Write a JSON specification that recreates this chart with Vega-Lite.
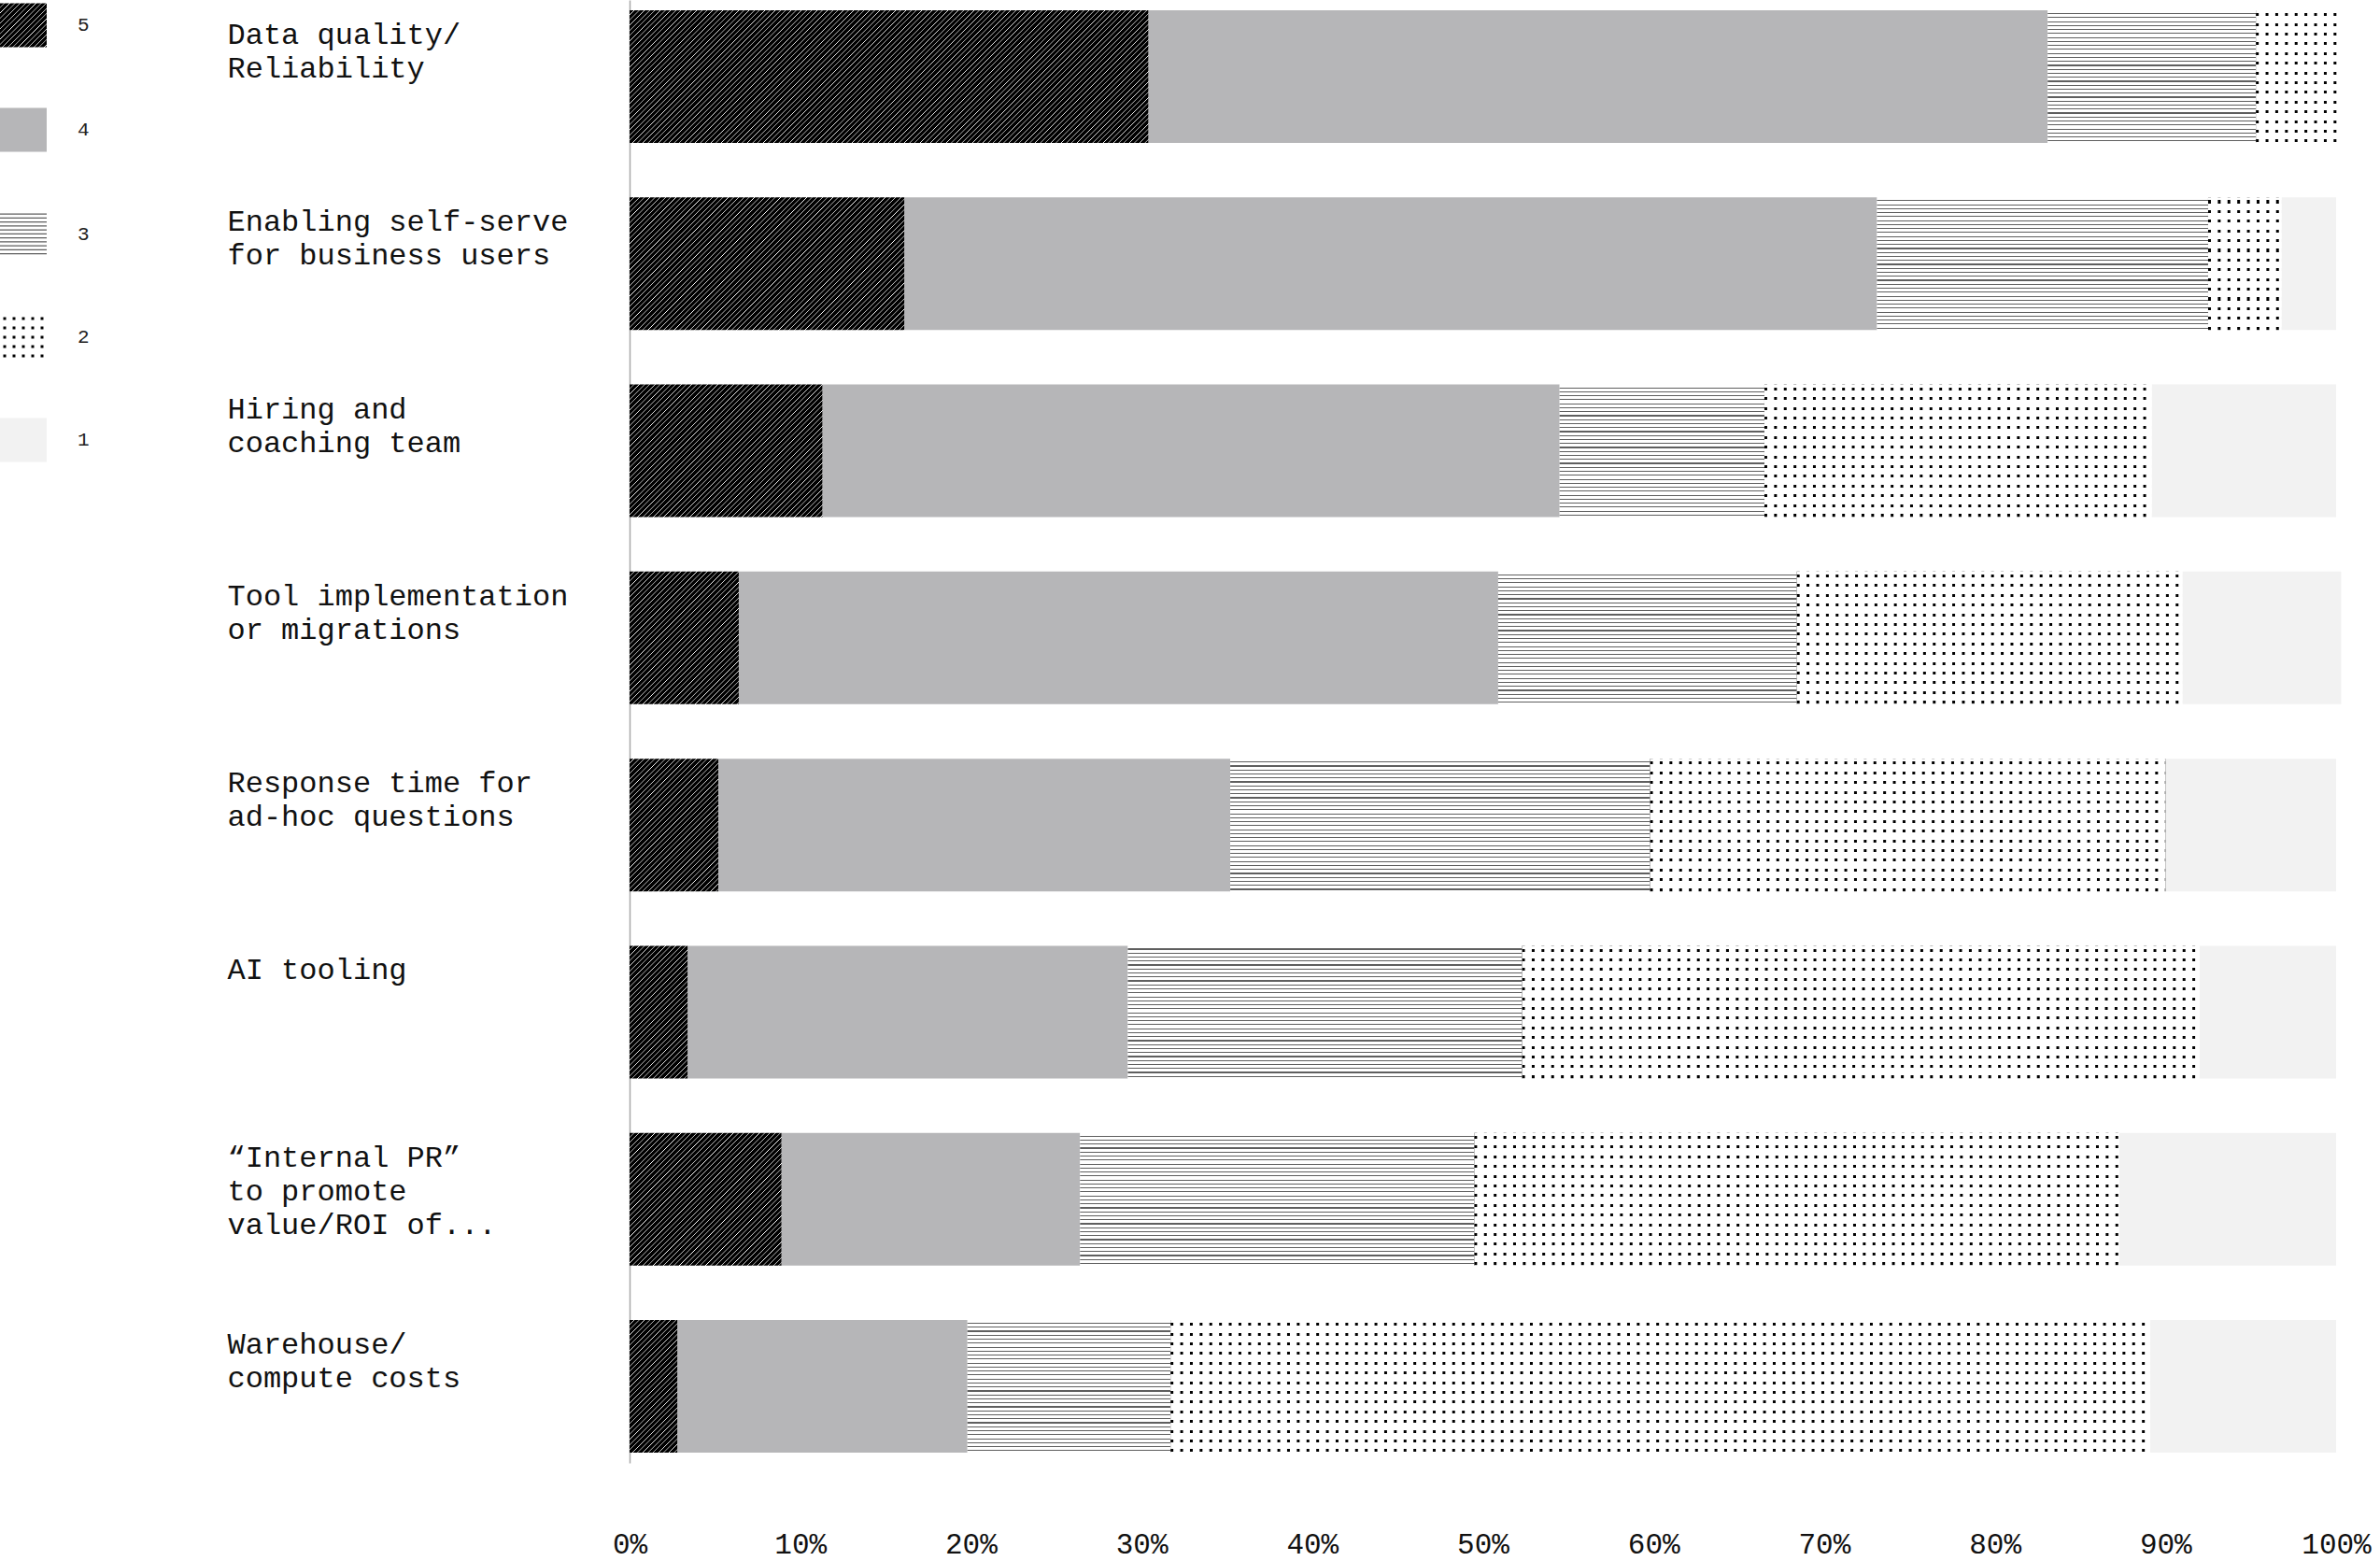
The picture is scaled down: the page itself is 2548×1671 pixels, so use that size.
{
  "$schema": "https://vega.github.io/schema/vega-lite/v6.json",
  "width": 1827,
  "height": 1566,
  "autosize": {"type": "none"},
  "padding": {"left": 674, "top": 0, "right": 47, "bottom": 105},
  "background": "#ffffff",
  "config": {"view": {"stroke": null}, "font": "Liberation Mono"},
  "params": [
    {"name": "hatchStops", "value": [
      {"offset":0,"color":"#000"},{"offset":0.0058,"color":"#000"},{"offset":0.007,"color":"#fff"},
      {"offset":0.008,"color":"#000"},{"offset":0.0138,"color":"#000"},{"offset":0.015,"color":"#fff"},
      {"offset":0.016,"color":"#000"},{"offset":0.0218,"color":"#000"},{"offset":0.023,"color":"#fff"},
      {"offset":0.024,"color":"#000"},{"offset":0.0298,"color":"#000"},{"offset":0.031,"color":"#fff"},
      {"offset":0.032,"color":"#000"},{"offset":0.0378,"color":"#000"},{"offset":0.039,"color":"#fff"},
      {"offset":0.04,"color":"#000"},{"offset":0.0458,"color":"#000"},{"offset":0.047,"color":"#fff"},
      {"offset":0.048,"color":"#000"},{"offset":0.0538,"color":"#000"},{"offset":0.055,"color":"#fff"},
      {"offset":0.056,"color":"#000"},{"offset":0.0618,"color":"#000"},{"offset":0.063,"color":"#fff"},
      {"offset":0.064,"color":"#000"},{"offset":0.0698,"color":"#000"},{"offset":0.071,"color":"#fff"},
      {"offset":0.072,"color":"#000"},{"offset":0.0778,"color":"#000"},{"offset":0.079,"color":"#fff"},
      {"offset":0.08,"color":"#000"},{"offset":0.0858,"color":"#000"},{"offset":0.087,"color":"#fff"},
      {"offset":0.088,"color":"#000"},{"offset":0.0938,"color":"#000"},{"offset":0.095,"color":"#fff"},
      {"offset":0.096,"color":"#000"},{"offset":0.1018,"color":"#000"},{"offset":0.103,"color":"#fff"},
      {"offset":0.104,"color":"#000"},{"offset":0.1098,"color":"#000"},{"offset":0.111,"color":"#fff"},
      {"offset":0.112,"color":"#000"},{"offset":0.1178,"color":"#000"},{"offset":0.119,"color":"#fff"},
      {"offset":0.12,"color":"#000"},{"offset":0.1258,"color":"#000"},{"offset":0.127,"color":"#fff"},
      {"offset":0.128,"color":"#000"},{"offset":0.1338,"color":"#000"},{"offset":0.135,"color":"#fff"},
      {"offset":0.136,"color":"#000"},{"offset":0.1418,"color":"#000"},{"offset":0.143,"color":"#fff"},
      {"offset":0.144,"color":"#000"},{"offset":0.1498,"color":"#000"},{"offset":0.151,"color":"#fff"},
      {"offset":0.152,"color":"#000"},{"offset":0.1578,"color":"#000"},{"offset":0.159,"color":"#fff"},
      {"offset":0.16,"color":"#000"},{"offset":0.1658,"color":"#000"},{"offset":0.167,"color":"#fff"},
      {"offset":0.168,"color":"#000"},{"offset":0.1738,"color":"#000"},{"offset":0.175,"color":"#fff"},
      {"offset":0.176,"color":"#000"},{"offset":0.1818,"color":"#000"},{"offset":0.183,"color":"#fff"},
      {"offset":0.184,"color":"#000"},{"offset":0.1898,"color":"#000"},{"offset":0.191,"color":"#fff"},
      {"offset":0.192,"color":"#000"},{"offset":0.1978,"color":"#000"},{"offset":0.199,"color":"#fff"},
      {"offset":0.2,"color":"#000"},{"offset":0.2058,"color":"#000"},{"offset":0.207,"color":"#fff"},
      {"offset":0.208,"color":"#000"},{"offset":0.2138,"color":"#000"},{"offset":0.215,"color":"#fff"},
      {"offset":0.216,"color":"#000"},{"offset":0.2218,"color":"#000"},{"offset":0.223,"color":"#fff"},
      {"offset":0.224,"color":"#000"},{"offset":0.2298,"color":"#000"},{"offset":0.231,"color":"#fff"},
      {"offset":0.232,"color":"#000"},{"offset":0.2378,"color":"#000"},{"offset":0.239,"color":"#fff"},
      {"offset":0.24,"color":"#000"},{"offset":0.2458,"color":"#000"},{"offset":0.247,"color":"#fff"},
      {"offset":0.248,"color":"#000"},{"offset":0.2538,"color":"#000"},{"offset":0.255,"color":"#fff"},
      {"offset":0.256,"color":"#000"},{"offset":0.2618,"color":"#000"},{"offset":0.263,"color":"#fff"},
      {"offset":0.264,"color":"#000"},{"offset":0.2698,"color":"#000"},{"offset":0.271,"color":"#fff"},
      {"offset":0.272,"color":"#000"},{"offset":0.2778,"color":"#000"},{"offset":0.279,"color":"#fff"},
      {"offset":0.28,"color":"#000"},{"offset":0.2858,"color":"#000"},{"offset":0.287,"color":"#fff"},
      {"offset":0.288,"color":"#000"},{"offset":0.2938,"color":"#000"},{"offset":0.295,"color":"#fff"},
      {"offset":0.296,"color":"#000"},{"offset":0.3018,"color":"#000"},{"offset":0.303,"color":"#fff"},
      {"offset":0.304,"color":"#000"},{"offset":0.3098,"color":"#000"},{"offset":0.311,"color":"#fff"},
      {"offset":0.312,"color":"#000"},{"offset":0.3178,"color":"#000"},{"offset":0.319,"color":"#fff"},
      {"offset":0.32,"color":"#000"},{"offset":0.3258,"color":"#000"},{"offset":0.327,"color":"#fff"},
      {"offset":0.328,"color":"#000"},{"offset":0.3338,"color":"#000"},{"offset":0.335,"color":"#fff"},
      {"offset":0.336,"color":"#000"},{"offset":0.3418,"color":"#000"},{"offset":0.343,"color":"#fff"},
      {"offset":0.344,"color":"#000"},{"offset":0.3498,"color":"#000"},{"offset":0.351,"color":"#fff"},
      {"offset":0.352,"color":"#000"},{"offset":0.3578,"color":"#000"},{"offset":0.359,"color":"#fff"},
      {"offset":0.36,"color":"#000"},{"offset":0.3658,"color":"#000"},{"offset":0.367,"color":"#fff"},
      {"offset":0.368,"color":"#000"},{"offset":0.3738,"color":"#000"},{"offset":0.375,"color":"#fff"},
      {"offset":0.376,"color":"#000"},{"offset":0.3818,"color":"#000"},{"offset":0.383,"color":"#fff"},
      {"offset":0.384,"color":"#000"},{"offset":0.3898,"color":"#000"},{"offset":0.391,"color":"#fff"},
      {"offset":0.392,"color":"#000"},{"offset":0.3978,"color":"#000"},{"offset":0.399,"color":"#fff"},
      {"offset":0.4,"color":"#000"},{"offset":0.4058,"color":"#000"},{"offset":0.407,"color":"#fff"},
      {"offset":0.408,"color":"#000"},{"offset":0.4138,"color":"#000"},{"offset":0.415,"color":"#fff"},
      {"offset":0.416,"color":"#000"},{"offset":0.4218,"color":"#000"},{"offset":0.423,"color":"#fff"},
      {"offset":0.424,"color":"#000"},{"offset":0.4298,"color":"#000"},{"offset":0.431,"color":"#fff"},
      {"offset":0.432,"color":"#000"},{"offset":0.4378,"color":"#000"},{"offset":0.439,"color":"#fff"},
      {"offset":0.44,"color":"#000"},{"offset":0.4458,"color":"#000"},{"offset":0.447,"color":"#fff"},
      {"offset":0.448,"color":"#000"},{"offset":0.4538,"color":"#000"},{"offset":0.455,"color":"#fff"},
      {"offset":0.456,"color":"#000"},{"offset":0.4618,"color":"#000"},{"offset":0.463,"color":"#fff"},
      {"offset":0.464,"color":"#000"},{"offset":0.4698,"color":"#000"},{"offset":0.471,"color":"#fff"},
      {"offset":0.472,"color":"#000"},{"offset":0.4778,"color":"#000"},{"offset":0.479,"color":"#fff"},
      {"offset":0.48,"color":"#000"},{"offset":0.4858,"color":"#000"},{"offset":0.487,"color":"#fff"},
      {"offset":0.488,"color":"#000"},{"offset":0.4938,"color":"#000"},{"offset":0.495,"color":"#fff"},
      {"offset":0.496,"color":"#000"},{"offset":0.5018,"color":"#000"},{"offset":0.503,"color":"#fff"},
      {"offset":0.504,"color":"#000"},{"offset":0.5098,"color":"#000"},{"offset":0.511,"color":"#fff"},
      {"offset":0.512,"color":"#000"},{"offset":0.5178,"color":"#000"},{"offset":0.519,"color":"#fff"},
      {"offset":0.52,"color":"#000"},{"offset":0.5258,"color":"#000"},{"offset":0.527,"color":"#fff"},
      {"offset":0.528,"color":"#000"},{"offset":0.5338,"color":"#000"},{"offset":0.535,"color":"#fff"},
      {"offset":0.536,"color":"#000"},{"offset":0.5418,"color":"#000"},{"offset":0.543,"color":"#fff"},
      {"offset":0.544,"color":"#000"},{"offset":0.5498,"color":"#000"},{"offset":0.551,"color":"#fff"},
      {"offset":0.552,"color":"#000"},{"offset":0.5578,"color":"#000"},{"offset":0.559,"color":"#fff"},
      {"offset":0.56,"color":"#000"},{"offset":0.5658,"color":"#000"},{"offset":0.567,"color":"#fff"},
      {"offset":0.568,"color":"#000"},{"offset":0.5738,"color":"#000"},{"offset":0.575,"color":"#fff"},
      {"offset":0.576,"color":"#000"},{"offset":0.5818,"color":"#000"},{"offset":0.583,"color":"#fff"},
      {"offset":0.584,"color":"#000"},{"offset":0.5898,"color":"#000"},{"offset":0.591,"color":"#fff"},
      {"offset":0.592,"color":"#000"},{"offset":0.5978,"color":"#000"},{"offset":0.599,"color":"#fff"},
      {"offset":0.6,"color":"#000"},{"offset":0.6058,"color":"#000"},{"offset":0.607,"color":"#fff"},
      {"offset":0.608,"color":"#000"},{"offset":0.6138,"color":"#000"},{"offset":0.615,"color":"#fff"},
      {"offset":0.616,"color":"#000"},{"offset":0.6218,"color":"#000"},{"offset":0.623,"color":"#fff"},
      {"offset":0.624,"color":"#000"},{"offset":0.6298,"color":"#000"},{"offset":0.631,"color":"#fff"},
      {"offset":0.632,"color":"#000"},{"offset":0.6378,"color":"#000"},{"offset":0.639,"color":"#fff"},
      {"offset":0.64,"color":"#000"},{"offset":0.6458,"color":"#000"},{"offset":0.647,"color":"#fff"},
      {"offset":0.648,"color":"#000"},{"offset":0.6538,"color":"#000"},{"offset":0.655,"color":"#fff"},
      {"offset":0.656,"color":"#000"},{"offset":0.6618,"color":"#000"},{"offset":0.663,"color":"#fff"},
      {"offset":0.664,"color":"#000"},{"offset":0.6698,"color":"#000"},{"offset":0.671,"color":"#fff"},
      {"offset":0.672,"color":"#000"},{"offset":0.6778,"color":"#000"},{"offset":0.679,"color":"#fff"},
      {"offset":0.68,"color":"#000"},{"offset":0.6858,"color":"#000"},{"offset":0.687,"color":"#fff"},
      {"offset":0.688,"color":"#000"},{"offset":0.6938,"color":"#000"},{"offset":0.695,"color":"#fff"},
      {"offset":0.696,"color":"#000"},{"offset":0.7018,"color":"#000"},{"offset":0.703,"color":"#fff"},
      {"offset":0.704,"color":"#000"},{"offset":0.7098,"color":"#000"},{"offset":0.711,"color":"#fff"},
      {"offset":0.712,"color":"#000"},{"offset":0.7178,"color":"#000"},{"offset":0.719,"color":"#fff"},
      {"offset":0.72,"color":"#000"},{"offset":0.7258,"color":"#000"},{"offset":0.727,"color":"#fff"},
      {"offset":0.728,"color":"#000"},{"offset":0.7338,"color":"#000"},{"offset":0.735,"color":"#fff"},
      {"offset":0.736,"color":"#000"},{"offset":0.7418,"color":"#000"},{"offset":0.743,"color":"#fff"},
      {"offset":0.744,"color":"#000"},{"offset":0.7498,"color":"#000"},{"offset":0.751,"color":"#fff"},
      {"offset":0.752,"color":"#000"},{"offset":0.7578,"color":"#000"},{"offset":0.759,"color":"#fff"},
      {"offset":0.76,"color":"#000"},{"offset":0.7658,"color":"#000"},{"offset":0.767,"color":"#fff"},
      {"offset":0.768,"color":"#000"},{"offset":0.7738,"color":"#000"},{"offset":0.775,"color":"#fff"},
      {"offset":0.776,"color":"#000"},{"offset":0.7818,"color":"#000"},{"offset":0.783,"color":"#fff"},
      {"offset":0.784,"color":"#000"},{"offset":0.7898,"color":"#000"},{"offset":0.791,"color":"#fff"},
      {"offset":0.792,"color":"#000"},{"offset":0.7978,"color":"#000"},{"offset":0.799,"color":"#fff"},
      {"offset":0.8,"color":"#000"},{"offset":0.8058,"color":"#000"},{"offset":0.807,"color":"#fff"},
      {"offset":0.808,"color":"#000"},{"offset":0.8138,"color":"#000"},{"offset":0.815,"color":"#fff"},
      {"offset":0.816,"color":"#000"},{"offset":0.8218,"color":"#000"},{"offset":0.823,"color":"#fff"},
      {"offset":0.824,"color":"#000"},{"offset":0.8298,"color":"#000"},{"offset":0.831,"color":"#fff"},
      {"offset":0.832,"color":"#000"},{"offset":0.8378,"color":"#000"},{"offset":0.839,"color":"#fff"},
      {"offset":0.84,"color":"#000"},{"offset":0.8458,"color":"#000"},{"offset":0.847,"color":"#fff"},
      {"offset":0.848,"color":"#000"},{"offset":0.8538,"color":"#000"},{"offset":0.855,"color":"#fff"},
      {"offset":0.856,"color":"#000"},{"offset":0.8618,"color":"#000"},{"offset":0.863,"color":"#fff"},
      {"offset":0.864,"color":"#000"},{"offset":0.8698,"color":"#000"},{"offset":0.871,"color":"#fff"},
      {"offset":0.872,"color":"#000"},{"offset":0.8778,"color":"#000"},{"offset":0.879,"color":"#fff"},
      {"offset":0.88,"color":"#000"},{"offset":0.8858,"color":"#000"},{"offset":0.887,"color":"#fff"},
      {"offset":0.888,"color":"#000"},{"offset":0.8938,"color":"#000"},{"offset":0.895,"color":"#fff"},
      {"offset":0.896,"color":"#000"},{"offset":0.9018,"color":"#000"},{"offset":0.903,"color":"#fff"},
      {"offset":0.904,"color":"#000"},{"offset":0.9098,"color":"#000"},{"offset":0.911,"color":"#fff"},
      {"offset":0.912,"color":"#000"},{"offset":0.9178,"color":"#000"},{"offset":0.919,"color":"#fff"},
      {"offset":0.92,"color":"#000"},{"offset":0.9258,"color":"#000"},{"offset":0.927,"color":"#fff"},
      {"offset":0.928,"color":"#000"},{"offset":0.9338,"color":"#000"},{"offset":0.935,"color":"#fff"},
      {"offset":0.936,"color":"#000"},{"offset":0.9418,"color":"#000"},{"offset":0.943,"color":"#fff"},
      {"offset":0.944,"color":"#000"},{"offset":0.9498,"color":"#000"},{"offset":0.951,"color":"#fff"},
      {"offset":0.952,"color":"#000"},{"offset":0.9578,"color":"#000"},{"offset":0.959,"color":"#fff"},
      {"offset":0.96,"color":"#000"},{"offset":0.9658,"color":"#000"},{"offset":0.967,"color":"#fff"},
      {"offset":0.968,"color":"#000"},{"offset":0.9738,"color":"#000"},{"offset":0.975,"color":"#fff"},
      {"offset":0.976,"color":"#000"},{"offset":0.9818,"color":"#000"},{"offset":0.983,"color":"#fff"},
      {"offset":0.984,"color":"#000"},{"offset":0.9898,"color":"#000"},{"offset":0.991,"color":"#fff"},
      {"offset":0.992,"color":"#000"},{"offset":0.9978,"color":"#000"},{"offset":0.999,"color":"#fff"},
      {"offset":1,"color":"#000"}
    ]}
  ],
  "data": {
    "values": [
      {"task": "Data quality/\nReliability", "rating": 5, "pct": 30.4},
      {"task": "Data quality/\nReliability", "rating": 4, "pct": 52.7},
      {"task": "Data quality/\nReliability", "rating": 3, "pct": 12.2},
      {"task": "Data quality/\nReliability", "rating": 2, "pct": 4.8},
      {"task": "Data quality/\nReliability", "rating": 1, "pct": 0},
      {"task": "Enabling self-serve\nfor business users", "rating": 5, "pct": 16.1},
      {"task": "Enabling self-serve\nfor business users", "rating": 4, "pct": 57.0},
      {"task": "Enabling self-serve\nfor business users", "rating": 3, "pct": 19.4},
      {"task": "Enabling self-serve\nfor business users", "rating": 2, "pct": 4.3},
      {"task": "Enabling self-serve\nfor business users", "rating": 1, "pct": 3.2},
      {"task": "Hiring and\ncoaching team", "rating": 5, "pct": 11.3},
      {"task": "Hiring and\ncoaching team", "rating": 4, "pct": 43.2},
      {"task": "Hiring and\ncoaching team", "rating": 3, "pct": 12.0},
      {"task": "Hiring and\ncoaching team", "rating": 2, "pct": 22.7},
      {"task": "Hiring and\ncoaching team", "rating": 1, "pct": 10.8},
      {"task": "Tool implementation\nor migrations", "rating": 5, "pct": 6.4},
      {"task": "Tool implementation\nor migrations", "rating": 4, "pct": 44.5},
      {"task": "Tool implementation\nor migrations", "rating": 3, "pct": 17.5},
      {"task": "Tool implementation\nor migrations", "rating": 2, "pct": 22.6},
      {"task": "Tool implementation\nor migrations", "rating": 1, "pct": 9.3},
      {"task": "Response time for\nad-hoc questions", "rating": 5, "pct": 5.2},
      {"task": "Response time for\nad-hoc questions", "rating": 4, "pct": 30.0},
      {"task": "Response time for\nad-hoc questions", "rating": 3, "pct": 24.6},
      {"task": "Response time for\nad-hoc questions", "rating": 2, "pct": 30.2},
      {"task": "Response time for\nad-hoc questions", "rating": 1, "pct": 10.0},
      {"task": "AI tooling", "rating": 5, "pct": 3.4},
      {"task": "AI tooling", "rating": 4, "pct": 25.8},
      {"task": "AI tooling", "rating": 3, "pct": 23.1},
      {"task": "AI tooling", "rating": 2, "pct": 39.7},
      {"task": "AI tooling", "rating": 1, "pct": 8.0},
      {"task": "“Internal PR”\nto promote\nvalue/ROI of...", "rating": 5, "pct": 8.9},
      {"task": "“Internal PR”\nto promote\nvalue/ROI of...", "rating": 4, "pct": 17.5},
      {"task": "“Internal PR”\nto promote\nvalue/ROI of...", "rating": 3, "pct": 23.1},
      {"task": "“Internal PR”\nto promote\nvalue/ROI of...", "rating": 2, "pct": 37.8},
      {"task": "“Internal PR”\nto promote\nvalue/ROI of...", "rating": 1, "pct": 12.7},
      {"task": "Warehouse/\ncompute costs", "rating": 5, "pct": 2.8},
      {"task": "Warehouse/\ncompute costs", "rating": 4, "pct": 17.0},
      {"task": "Warehouse/\ncompute costs", "rating": 3, "pct": 11.9},
      {"task": "Warehouse/\ncompute costs", "rating": 2, "pct": 57.4},
      {"task": "Warehouse/\ncompute costs", "rating": 1, "pct": 10.9}
    ]
  },
  "transform": [
    {"stack": "pct", "groupby": ["task"], "sort": [{"field": "rating", "order": "descending"}], "as": ["x0", "x1"]}
  ],
  "encoding": {
    "y": {
      "field": "task",
      "type": "nominal",
      "sort": null,
      "scale": {"paddingInner": 0.291, "paddingOuter": 0.055},
      "axis": {
        "title": null,
        "ticks": false,
        "tickSize": 0,
        "domain": true,
        "domainColor": "#a9a9a9",
        "domainWidth": 1.5,
        "labelExpr": "split(datum.value, '\\n')",
        "labelAlign": "left",
        "labelBaseline": "alphabetic",
        "labelPadding": 431,
        "labelOffset": -35,
        "labelLineHeight": 36,
        "labelLimit": 600,
        "labelFont": "Liberation Mono",
        "labelFontSize": 32,
        "labelColor": "#111111"
      }
    },
    "x": {
      "field": "x0",
      "type": "quantitative",
      "scale": {"domain": [0, 100], "nice": false},
      "axis": {
        "title": null,
        "values": [0, 10, 20, 30, 40, 50, 60, 70, 80, 90, 100],
        "labelExpr": "datum.value + '%'",
        "domain": false,
        "ticks": false,
        "tickSize": 0,
        "grid": false,
        "labelFlush": false,
        "labelPadding": 96,
        "labelBaseline": "alphabetic",
        "labelFont": "Liberation Mono",
        "labelFontSize": 31,
        "labelColor": "#111111"
      }
    }
  },
  "layer": [
    {
      "mark": {"type": "point", "filled": true, "opacity": 0},
      "encoding": {
        "color": {
          "field": "rating",
          "type": "nominal",
          "scale": {
            "domain": [5, 4, 3, 2, 1],
            "range": [
              {"expr": "{gradient: 'linear', x1: 0, y1: 0, x2: 7.433, y2: 6.987, stops: hatchStops}"},
              "#b6b6b8",
              "#5f5f5f",
              "#000000",
              "#f2f2f2"
            ]
          },
          "legend": {
            "orient": "none", "legendX": -674, "legendY": 2, "title": null, "padding": 0,
            "symbolSize": 2500, "symbolStrokeWidth": 0, "symbolOpacity": 1,
            "labelFont": "Liberation Mono", "labelFontSize": 21, "labelColor": "#222222",
            "labelOffset": 33, "rowPadding": 63
          }
        },
        "shape": {
          "field": "rating",
          "type": "nominal",
          "scale": {
            "domain": [5, 4, 3, 2, 1],
            "range": [
              "M-1,-0.94H1V0.94H-1Z",
              "M-1,-0.94H1V0.94H-1Z",
              "M-1,-0.9h2v0.045h-2zM-1,-0.73h2v0.045h-2zM-1,-0.56h2v0.045h-2zM-1,-0.39h2v0.045h-2zM-1,-0.22h2v0.045h-2zM-1,-0.05h2v0.045h-2zM-1,0.12h2v0.045h-2zM-1,0.29h2v0.045h-2zM-1,0.46h2v0.045h-2zM-1,0.63h2v0.045h-2zM-1,0.8h2v0.045h-2z",
              "M-0.86,-0.86h0.12v0.12h-0.12zM-0.46,-0.86h0.12v0.12h-0.12zM-0.06,-0.86h0.12v0.12h-0.12zM0.34,-0.86h0.12v0.12h-0.12zM0.74,-0.86h0.12v0.12h-0.12zM-0.86,-0.46h0.12v0.12h-0.12zM-0.46,-0.46h0.12v0.12h-0.12zM-0.06,-0.46h0.12v0.12h-0.12zM0.34,-0.46h0.12v0.12h-0.12zM0.74,-0.46h0.12v0.12h-0.12zM-0.86,-0.06h0.12v0.12h-0.12zM-0.46,-0.06h0.12v0.12h-0.12zM-0.06,-0.06h0.12v0.12h-0.12zM0.34,-0.06h0.12v0.12h-0.12zM0.74,-0.06h0.12v0.12h-0.12zM-0.86,0.34h0.12v0.12h-0.12zM-0.46,0.34h0.12v0.12h-0.12zM-0.06,0.34h0.12v0.12h-0.12zM0.34,0.34h0.12v0.12h-0.12zM0.74,0.34h0.12v0.12h-0.12zM-0.86,0.74h0.12v0.12h-0.12zM-0.46,0.74h0.12v0.12h-0.12zM-0.06,0.74h0.12v0.12h-0.12zM0.34,0.74h0.12v0.12h-0.12zM0.74,0.74h0.12v0.12h-0.12z",
              "M-1,-0.94H1V0.94H-1Z"
            ]
          },
          "legend": {
            "orient": "none", "legendX": -674, "legendY": 2, "title": null, "padding": 0,
            "symbolSize": 2500, "symbolStrokeWidth": 0, "symbolOpacity": 1,
            "labelFont": "Liberation Mono", "labelFontSize": 21, "labelColor": "#222222",
            "labelOffset": 33, "rowPadding": 63
          }
        }
      }
    },
    {
      "transform": [{"filter": "datum.rating == 4"}],
      "mark": {"type": "bar", "fill": "#b6b6b8"},
      "encoding": {"x2": {"field": "x1"}}
    },
    {
      "transform": [{"filter": "datum.rating == 1"}],
      "mark": {"type": "bar", "fill": "#f2f2f2"},
      "encoding": {"x2": {"field": "x1"}}
    },
    {
      "transform": [{"filter": "datum.rating == 3"}],
      "mark": {
        "type": "bar",
        "fill": {
          "gradient": "linear", "x1": 0, "y1": 0, "x2": 0, "y2": 1,
          "stops": [
            {"offset":0,"color":"#fff"},
            {"offset":0.021,"color":"#fff"},{"offset":0.021,"color":"#5f5f5f"},{"offset":0.029,"color":"#5f5f5f"},{"offset":0.029,"color":"#fff"},
            {"offset":0.051,"color":"#fff"},{"offset":0.051,"color":"#5f5f5f"},{"offset":0.059,"color":"#5f5f5f"},{"offset":0.059,"color":"#fff"},
            {"offset":0.081,"color":"#fff"},{"offset":0.081,"color":"#5f5f5f"},{"offset":0.089,"color":"#5f5f5f"},{"offset":0.089,"color":"#fff"},
            {"offset":0.111,"color":"#fff"},{"offset":0.111,"color":"#5f5f5f"},{"offset":0.119,"color":"#5f5f5f"},{"offset":0.119,"color":"#fff"},
            {"offset":0.141,"color":"#fff"},{"offset":0.141,"color":"#5f5f5f"},{"offset":0.149,"color":"#5f5f5f"},{"offset":0.149,"color":"#fff"},
            {"offset":0.171,"color":"#fff"},{"offset":0.171,"color":"#5f5f5f"},{"offset":0.179,"color":"#5f5f5f"},{"offset":0.179,"color":"#fff"},
            {"offset":0.201,"color":"#fff"},{"offset":0.201,"color":"#5f5f5f"},{"offset":0.209,"color":"#5f5f5f"},{"offset":0.209,"color":"#fff"},
            {"offset":0.231,"color":"#fff"},{"offset":0.231,"color":"#5f5f5f"},{"offset":0.239,"color":"#5f5f5f"},{"offset":0.239,"color":"#fff"},
            {"offset":0.261,"color":"#fff"},{"offset":0.261,"color":"#5f5f5f"},{"offset":0.269,"color":"#5f5f5f"},{"offset":0.269,"color":"#fff"},
            {"offset":0.291,"color":"#fff"},{"offset":0.291,"color":"#5f5f5f"},{"offset":0.299,"color":"#5f5f5f"},{"offset":0.299,"color":"#fff"},
            {"offset":0.321,"color":"#fff"},{"offset":0.321,"color":"#5f5f5f"},{"offset":0.329,"color":"#5f5f5f"},{"offset":0.329,"color":"#fff"},
            {"offset":0.351,"color":"#fff"},{"offset":0.351,"color":"#5f5f5f"},{"offset":0.359,"color":"#5f5f5f"},{"offset":0.359,"color":"#fff"},
            {"offset":0.381,"color":"#fff"},{"offset":0.381,"color":"#5f5f5f"},{"offset":0.389,"color":"#5f5f5f"},{"offset":0.389,"color":"#fff"},
            {"offset":0.411,"color":"#fff"},{"offset":0.411,"color":"#5f5f5f"},{"offset":0.419,"color":"#5f5f5f"},{"offset":0.419,"color":"#fff"},
            {"offset":0.441,"color":"#fff"},{"offset":0.441,"color":"#5f5f5f"},{"offset":0.449,"color":"#5f5f5f"},{"offset":0.449,"color":"#fff"},
            {"offset":0.471,"color":"#fff"},{"offset":0.471,"color":"#5f5f5f"},{"offset":0.479,"color":"#5f5f5f"},{"offset":0.479,"color":"#fff"},
            {"offset":0.501,"color":"#fff"},{"offset":0.501,"color":"#5f5f5f"},{"offset":0.509,"color":"#5f5f5f"},{"offset":0.509,"color":"#fff"},
            {"offset":0.531,"color":"#fff"},{"offset":0.531,"color":"#5f5f5f"},{"offset":0.539,"color":"#5f5f5f"},{"offset":0.539,"color":"#fff"},
            {"offset":0.561,"color":"#fff"},{"offset":0.561,"color":"#5f5f5f"},{"offset":0.569,"color":"#5f5f5f"},{"offset":0.569,"color":"#fff"},
            {"offset":0.591,"color":"#fff"},{"offset":0.591,"color":"#5f5f5f"},{"offset":0.599,"color":"#5f5f5f"},{"offset":0.599,"color":"#fff"},
            {"offset":0.621,"color":"#fff"},{"offset":0.621,"color":"#5f5f5f"},{"offset":0.629,"color":"#5f5f5f"},{"offset":0.629,"color":"#fff"},
            {"offset":0.651,"color":"#fff"},{"offset":0.651,"color":"#5f5f5f"},{"offset":0.659,"color":"#5f5f5f"},{"offset":0.659,"color":"#fff"},
            {"offset":0.681,"color":"#fff"},{"offset":0.681,"color":"#5f5f5f"},{"offset":0.689,"color":"#5f5f5f"},{"offset":0.689,"color":"#fff"},
            {"offset":0.711,"color":"#fff"},{"offset":0.711,"color":"#5f5f5f"},{"offset":0.719,"color":"#5f5f5f"},{"offset":0.719,"color":"#fff"},
            {"offset":0.741,"color":"#fff"},{"offset":0.741,"color":"#5f5f5f"},{"offset":0.749,"color":"#5f5f5f"},{"offset":0.749,"color":"#fff"},
            {"offset":0.771,"color":"#fff"},{"offset":0.771,"color":"#5f5f5f"},{"offset":0.779,"color":"#5f5f5f"},{"offset":0.779,"color":"#fff"},
            {"offset":0.801,"color":"#fff"},{"offset":0.801,"color":"#5f5f5f"},{"offset":0.809,"color":"#5f5f5f"},{"offset":0.809,"color":"#fff"},
            {"offset":0.831,"color":"#fff"},{"offset":0.831,"color":"#5f5f5f"},{"offset":0.839,"color":"#5f5f5f"},{"offset":0.839,"color":"#fff"},
            {"offset":0.861,"color":"#fff"},{"offset":0.861,"color":"#5f5f5f"},{"offset":0.869,"color":"#5f5f5f"},{"offset":0.869,"color":"#fff"},
            {"offset":0.891,"color":"#fff"},{"offset":0.891,"color":"#5f5f5f"},{"offset":0.899,"color":"#5f5f5f"},{"offset":0.899,"color":"#fff"},
            {"offset":0.921,"color":"#fff"},{"offset":0.921,"color":"#5f5f5f"},{"offset":0.929,"color":"#5f5f5f"},{"offset":0.929,"color":"#fff"},
            {"offset":0.951,"color":"#fff"},{"offset":0.951,"color":"#5f5f5f"},{"offset":0.959,"color":"#5f5f5f"},{"offset":0.959,"color":"#fff"},
            {"offset":0.981,"color":"#fff"},{"offset":0.981,"color":"#5f5f5f"},{"offset":0.989,"color":"#5f5f5f"},{"offset":0.989,"color":"#fff"},
            {"offset":1,"color":"#fff"}
          ]
        }
      },
      "encoding": {"x2": {"field": "x1"}}
    },
    {
      "transform": [{"filter": "datum.rating == 5"}],
      "mark": {
        "type": "bar",
        "fill": {"expr": "{gradient: 'linear', x1: 0, y1: 0, x2: 700*(datum.x1-datum.x0)*18.27/(pow((datum.x1-datum.x0)*18.27, 2)+20164), y2: 99400/(pow((datum.x1-datum.x0)*18.27, 2)+20164), stops: hatchStops}"}
      },
      "encoding": {"x2": {"field": "x1"}}
    },
    {
      "transform": [{"filter": "datum.rating == 2"}],
      "mark": {"type": "rule", "stroke": "#000000", "strokeWidth": 142, "strokeDash": [3, 7.4]},
      "encoding": {"x2": {"field": "x1"}}
    },
    {
      "transform": [{"filter": "datum.rating == 2"}],
      "mark": {
        "type": "bar",
        "fill": {
          "gradient": "linear", "x1": 0, "y1": 0, "x2": 0, "y2": 1,
          "stops": [
            {"offset":0,"color":"#fff"},
            {"offset":0.0225,"color":"#fff"},{"offset":0.0225,"color":"rgba(255,255,255,0)"},{"offset":0.0437,"color":"rgba(255,255,255,0)"},{"offset":0.0437,"color":"#fff"},
            {"offset":0.0958,"color":"#fff"},{"offset":0.0958,"color":"rgba(255,255,255,0)"},{"offset":0.1169,"color":"rgba(255,255,255,0)"},{"offset":0.1169,"color":"#fff"},
            {"offset":0.169,"color":"#fff"},{"offset":0.169,"color":"rgba(255,255,255,0)"},{"offset":0.1901,"color":"rgba(255,255,255,0)"},{"offset":0.1901,"color":"#fff"},
            {"offset":0.2423,"color":"#fff"},{"offset":0.2423,"color":"rgba(255,255,255,0)"},{"offset":0.2634,"color":"rgba(255,255,255,0)"},{"offset":0.2634,"color":"#fff"},
            {"offset":0.3155,"color":"#fff"},{"offset":0.3155,"color":"rgba(255,255,255,0)"},{"offset":0.3366,"color":"rgba(255,255,255,0)"},{"offset":0.3366,"color":"#fff"},
            {"offset":0.3887,"color":"#fff"},{"offset":0.3887,"color":"rgba(255,255,255,0)"},{"offset":0.4099,"color":"rgba(255,255,255,0)"},{"offset":0.4099,"color":"#fff"},
            {"offset":0.462,"color":"#fff"},{"offset":0.462,"color":"rgba(255,255,255,0)"},{"offset":0.4831,"color":"rgba(255,255,255,0)"},{"offset":0.4831,"color":"#fff"},
            {"offset":0.5352,"color":"#fff"},{"offset":0.5352,"color":"rgba(255,255,255,0)"},{"offset":0.5563,"color":"rgba(255,255,255,0)"},{"offset":0.5563,"color":"#fff"},
            {"offset":0.6085,"color":"#fff"},{"offset":0.6085,"color":"rgba(255,255,255,0)"},{"offset":0.6296,"color":"rgba(255,255,255,0)"},{"offset":0.6296,"color":"#fff"},
            {"offset":0.6817,"color":"#fff"},{"offset":0.6817,"color":"rgba(255,255,255,0)"},{"offset":0.7028,"color":"rgba(255,255,255,0)"},{"offset":0.7028,"color":"#fff"},
            {"offset":0.7549,"color":"#fff"},{"offset":0.7549,"color":"rgba(255,255,255,0)"},{"offset":0.7761,"color":"rgba(255,255,255,0)"},{"offset":0.7761,"color":"#fff"},
            {"offset":0.8282,"color":"#fff"},{"offset":0.8282,"color":"rgba(255,255,255,0)"},{"offset":0.8493,"color":"rgba(255,255,255,0)"},{"offset":0.8493,"color":"#fff"},
            {"offset":0.9014,"color":"#fff"},{"offset":0.9014,"color":"rgba(255,255,255,0)"},{"offset":0.9225,"color":"rgba(255,255,255,0)"},{"offset":0.9225,"color":"#fff"},
            {"offset":0.9746,"color":"#fff"},{"offset":0.9746,"color":"rgba(255,255,255,0)"},{"offset":0.9958,"color":"rgba(255,255,255,0)"},{"offset":0.9958,"color":"#fff"},
            {"offset":1,"color":"#fff"}
          ]
        }
      },
      "encoding": {"x2": {"field": "x1"}}
    }
  ]
}
